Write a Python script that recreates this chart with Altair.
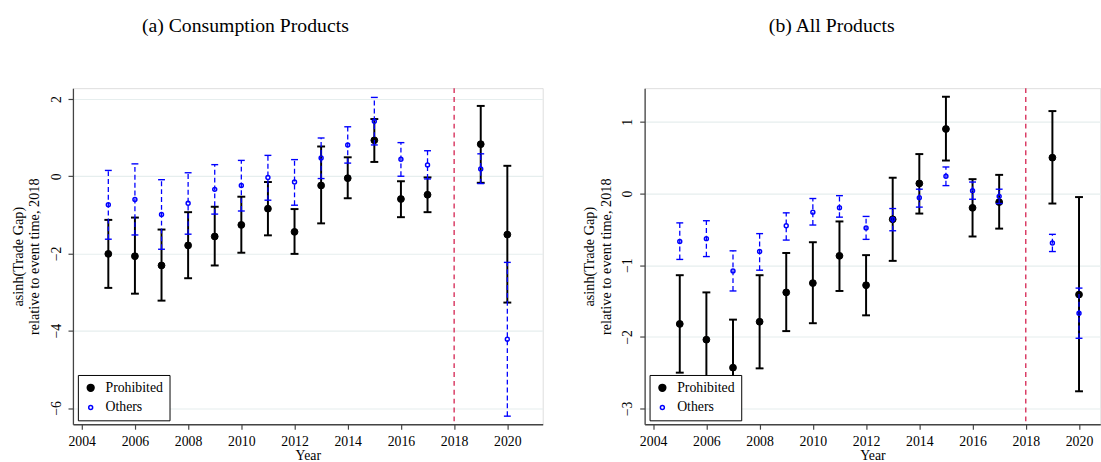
import altair as alt
import pandas as pd

# ---------------- data ----------------
YEARS = [2005, 2006, 2007, 2008, 2009, 2010, 2011, 2012, 2013, 2014, 2015, 2016, 2017, 2019, 2020]
SERIES = ["Prohibited", "Others"]
X_TICKS = [2004, 2006, 2008, 2010, 2012, 2014, 2016, 2018, 2020]
EVENT_YEAR = [2018]

# (a) Consumption Products
A_PRO_EST = [-2.01, -2.07, -2.31, -1.79, -1.56, -1.26, -0.84, -1.44, -0.24, -0.05, 0.93, -0.59, -0.48, 0.83, -1.51]
A_PRO_LO = [-2.89, -3.04, -3.22, -2.64, -2.31, -1.98, -1.53, -2.01, -1.22, -0.57, 0.37, -1.06, -0.93, -0.17, -3.27]
A_PRO_HI = [-1.13, -1.07, -1.38, -0.93, -0.79, -0.53, -0.15, -0.85, 0.77, 0.49, 1.48, -0.13, -0.03, 1.82, 0.27]
A_OTH_EST = [-0.74, -0.60, -0.99, -0.70, -0.34, -0.24, -0.03, -0.15, 0.47, 0.81, 1.42, 0.44, 0.29, 0.19, -4.22]
A_OTH_LO = [-1.63, -1.52, -1.89, -1.50, -0.98, -0.90, -0.62, -0.75, -0.06, 0.34, 0.81, 0.00, -0.07, -0.19, -6.21]
A_OTH_HI = [0.15, 0.32, -0.09, 0.09, 0.30, 0.41, 0.54, 0.43, 0.99, 1.28, 2.04, 0.87, 0.66, 0.58, -2.23]
A_Y_TICKS = [-6, -4, -2, 0, 2]

# (b) All Products
B_PRO_EST = [-1.82, -2.04, -2.43, -1.79, -1.38, -1.25, -0.87, -1.28, -0.36, 0.14, 0.90, -0.20, -0.12, 0.50, -1.41]
B_PRO_LO = [-2.50, -2.70, -3.10, -2.44, -1.92, -1.81, -1.36, -1.70, -0.94, -0.28, 0.46, -0.60, -0.49, -0.14, -2.76]
B_PRO_HI = [-1.14, -1.38, -1.76, -1.14, -0.83, -0.68, -0.39, -0.86, 0.22, 0.55, 1.35, 0.20, 0.26, 1.15, -0.05]
B_OTH_EST = [-0.67, -0.63, -1.08, -0.81, -0.45, -0.26, -0.20, -0.48, -0.36, -0.06, 0.24, 0.04, -0.04, -0.69, -1.67]
B_OTH_LO = [-0.92, -0.88, -1.36, -1.07, -0.65, -0.44, -0.33, -0.64, -0.52, -0.19, 0.11, -0.08, -0.14, -0.81, -2.02]
B_OTH_HI = [-0.41, -0.38, -0.80, -0.56, -0.27, -0.07, -0.03, -0.32, -0.21, 0.06, 0.37, 0.16, 0.06, -0.57, -1.32]
B_Y_TICKS = [-3, -2, -1, 0, 1]

FONT = "Liberation Serif"
Y_TITLE = ["asinh(Trade Gap)", "relative to event time, 2018"]


def make_df(pe, pl, ph, oe, ol, oh):
    rows = []
    for yr, e, l, h in zip(YEARS, pe, pl, ph):
        rows.append({"year": yr, "est": e, "lo": l, "hi": h, "series": "Prohibited"})
    for yr, e, l, h in zip(YEARS, oe, ol, oh):
        rows.append({"year": yr, "est": e, "lo": l, "hi": h, "series": "Others"})
    return pd.DataFrame(rows)


def panel(df, title, ydom, yticks, xdom, width, title_dx):
    xaxis = alt.Axis(values=X_TICKS, format="d", title="Year", grid=False,
                     labelFont=FONT, labelFontSize=14, titleFont=FONT, titleFontSize=14,
                     titleFontWeight="normal", titleColor="black", labelColor="black",
                     domainColor="#444444", domainWidth=1.3, tickColor="#444444",
                     tickSize=5, tickWidth=1.2, labelPadding=6, titlePadding=0, labelFlush=False)
    yaxis = alt.Axis(values=yticks, format="d", title=Y_TITLE, grid=True,
                     gridColor="#e6eeee", gridWidth=1.2,
                     labelFont=FONT, labelFontSize=14, titleFont=FONT, titleFontSize=14.5,
                     titleFontWeight="normal", titleColor="black", labelColor="black",
                     labelAngle=270, labelAlign="center", labelBaseline="bottom",
                     domainColor="#444444", domainWidth=1.3, tickColor="#444444",
                     tickSize=5, tickWidth=1.2, labelPadding=5, titlePadding=8, labelFlush=False)
    xs = alt.Scale(domain=xdom, nice=False, zero=False)
    ys = alt.Scale(domain=ydom, nice=False, zero=False)

    def X():
        return alt.X("year:Q", scale=xs, axis=xaxis)

    def Y(field):
        return alt.Y(f"{field}:Q", scale=ys, axis=yaxis)

    base = alt.Chart(df)
    pro = base.transform_filter(alt.datum.series == "Prohibited")
    oth = base.transform_filter(alt.datum.series == "Others")

    vline = alt.Chart(pd.DataFrame({"year": EVENT_YEAR})).mark_rule(
        color="#d4204e", strokeWidth=1.3, strokeDash=[5, 4]
    ).encode(x=X())

    leg = alt.Legend(title=None, orient="bottom-left", offset=4.5, fillColor="white",
                     strokeColor="black", padding=6, rowPadding=6, labelFont=FONT,
                     labelFontSize=14, labelColor="black", labelOffset=8, symbolStrokeWidth=1.5)
    sc_stroke = alt.Scale(domain=SERIES, range=["black", "blue"])
    sc_fill = alt.Scale(domain=SERIES, range=["black", "transparent"])
    sc_size = alt.Scale(domain=SERIES, range=[48, 16])

    def pts(src, sw):
        return src.mark_point(opacity=1, strokeWidth=sw, shape="circle").encode(
            x=X(), y=Y("est"),
            stroke=alt.Stroke("series:N", scale=sc_stroke, legend=leg),
            fill=alt.Fill("series:N", scale=sc_fill, legend=leg),
            size=alt.Size("series:N", scale=sc_size, legend=leg),
        )

    pro_bar = pro.mark_rule(color="black", strokeWidth=2).encode(x=X(), y=Y("lo"), y2="hi:Q")
    pro_lo = pro.mark_tick(color="black", orient="horizontal", size=8, thickness=2, opacity=1).encode(x=X(), y=Y("lo"))
    pro_hi = pro.mark_tick(color="black", orient="horizontal", size=8, thickness=2, opacity=1).encode(x=X(), y=Y("hi"))
    oth_bar = oth.mark_rule(color="blue", strokeWidth=1.3, strokeDash=[5, 3]).encode(x=X(), y=Y("lo"), y2="hi:Q")
    oth_lo = oth.mark_tick(color="blue", orient="horizontal", size=7, thickness=1.4, opacity=1).encode(x=X(), y=Y("lo"))
    oth_hi = oth.mark_tick(color="blue", orient="horizontal", size=7, thickness=1.4, opacity=1).encode(x=X(), y=Y("hi"))

    layer = alt.layer(
        vline, pro_bar, pro_lo, pro_hi, pts(pro, 1.0), oth_bar, oth_lo, oth_hi, pts(oth, 1.5)
    ).properties(
        width=width, height=341,
        title=alt.TitleParams(title, font=FONT, fontSize=20, fontWeight="normal", color="black",
                              anchor="start", frame="group", dx=title_dx, offset=52.5),
    )
    return layer


df_a = make_df(A_PRO_EST, A_PRO_LO, A_PRO_HI, A_OTH_EST, A_OTH_LO, A_OTH_HI)
df_b = make_df(B_PRO_EST, B_PRO_LO, B_PRO_HI, B_OTH_EST, B_OTH_LO, B_OTH_HI)

left = panel(df_a, "(a) Consumption Products", [-6.42, 2.28], A_Y_TICKS, [2003.67, 2021.33], 476.6, 70)
right = panel(df_b, "(b) All Products", [-3.22, 1.47], B_Y_TICKS, [2003.68, 2020.8], 462.3, 126)

chart = alt.hconcat(left, right, spacing=37).resolve_scale(
    x="independent", y="independent", stroke="independent", fill="independent", size="independent"
).resolve_legend(
    stroke="independent", fill="independent", size="independent"
).properties(
    padding={"left": 10, "top": 12, "right": 0, "bottom": 5}
).configure_view(stroke=None).configure(background="white")

chart.save("out.html", embed_options={"renderer": "svg", "actions": False})
